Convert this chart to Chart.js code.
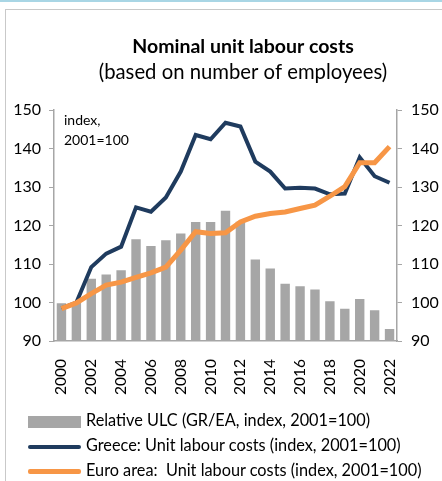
<!DOCTYPE html>
<html>
<head>
<meta charset="utf-8">
<script src="https://cdn.jsdelivr.net/npm/chart.js@4.4.1/dist/chart.umd.min.js"></script>
<style>
  html, body { margin: 0; padding: 0; background: #fff; }
  #wrap { position: relative; width: 442px; height: 481px; overflow: hidden; font-family: Lato, "Open Sans", sans-serif; }
  #topline { position: absolute; left: 0; top: 0; width: 442px; height: 2px; background: #a9d6e5; }
  #frame { position: absolute; left: 5px; top: 9px; width: 460px; height: 500px; border: 1px solid #c9c9c9; }
  #chart { position: absolute; left: 0; top: 0; }
  #unit { position: absolute; left: 64px; top: 110px; font-size: 14px; line-height: 20px; color: #000; }
  .leg { position: absolute; left: 28px; font-size: 16.3px; color: #000; white-space: nowrap; }
  .sw { display: inline-block; width: 53px; vertical-align: middle; margin-right: 5px; }
</style>
</head>
<body>
<div id="wrap">
  <div id="topline"></div>
  <div id="frame"></div>
  <canvas id="chart" width="442" height="481"></canvas>
  <div id="unit">index,<br>2001=100</div>
  <div class="leg" style="top:410px"><span class="sw" style="height:12px;background:#a6a6a6"></span>Relative ULC (GR/EA, index, 2001=100)</div>
  <div class="leg" style="top:435px"><span class="sw" style="height:4px;background:#1f3b5e;border-radius:2px"></span>Greece: Unit labour costs (index, 2001=100)</div>
  <div class="leg" style="top:460px"><span class="sw" style="height:5px;background:#f79646;border-radius:2px"></span>Euro area:&nbsp; Unit labour costs (index, 2001=100)</div>
</div>
<script>
// Datos
const years = ['2000','2001','2002','2003','2004','2005','2006','2007','2008','2009','2010','2011',
               '2012','2013','2014','2015','2016','2017','2018','2019','2020','2021','2022'];
const relativeUlc = [99.8, 100.0, 106.2, 107.3, 108.4, 116.4, 114.7, 116.2, 117.9, 120.9, 120.9, 123.8,
                     121.0, 111.2, 108.8, 104.9, 104.2, 103.4, 100.3, 98.4, 100.9, 98.0, 93.1];
const greeceUlc = [98.5, 100.0, 109.2, 112.7, 114.5, 124.7, 123.6, 127.3, 134.0, 143.5, 142.4, 146.7,
                   145.7, 136.6, 134.0, 129.6, 129.8, 129.6, 128.1, 128.3, 137.7, 132.8, 131.1];
const euroUlc = [98.4, 99.9, 102.3, 104.5, 105.3, 106.5, 107.7, 109.2, 113.6, 118.4, 117.9, 118.1,
                 120.9, 122.4, 123.1, 123.5, 124.4, 125.3, 127.6, 130.1, 136.3, 136.3, 140.5];

const axisGrey = '#a6a6a6';
const tickFont = { family: 'Lato, "Open Sans", sans-serif', size: 16 };

function yAxis(pos, width, pad) {
    return {
        position: pos,
        min: 90,
        max: 150,
        ticks: { stepSize: 10, color: '#000', font: tickFont, padding: pad },
        grid: { drawOnChartArea: false, color: axisGrey, tickLength: 5 },
        border: { color: axisGrey, width: 1.5 },
        afterFit: s => { s.width = width; }
    };
}

new Chart(document.getElementById('chart').getContext('2d'), {
    data: {
        labels: years,
        datasets: [
            { type: 'line', label: 'Euro area:  Unit labour costs (index, 2001=100)', data: euroUlc,
              borderColor: '#f79646', borderWidth: 5, pointRadius: 0, tension: 0, order: 1, yAxisID: 'y' },
            { type: 'line', label: 'Greece: Unit labour costs (index, 2001=100)', data: greeceUlc,
              borderColor: '#1f3b5e', borderWidth: 4, pointRadius: 0, tension: 0, order: 2, yAxisID: 'y' },
            { type: 'bar', label: 'Relative ULC (GR/EA, index, 2001=100)', data: relativeUlc,
              backgroundColor: '#a6a6a6', barPercentage: 0.63, categoryPercentage: 1, order: 3, yAxisID: 'y' }
        ]
    },
    options: {
        responsive: false,
        animation: false,
        layout: { padding: { left: 0, right: 0, top: 110, bottom: 0 } },
        plugins: {
            legend: { display: false },
            tooltip: { enabled: false },
            title: { display: false }
        },
        scales: {
            x: {
                offset: true,
                grid: { display: false },
                border: { color: axisGrey, width: 1.5 },
                ticks: {
                    autoSkip: false, minRotation: 90, maxRotation: 90, color: '#000',
                    font: { family: 'Lato, "Open Sans", sans-serif', size: 15.5 }, padding: 10,
                    callback: function (v, i) { return i % 2 === 0 ? this.getLabelForValue(v) : ''; }
                },
                afterFit: s => { s.height = 140; }
            },
            y: yAxis('left', 54, 8),
            y2: yAxis('right', 45, 9)
        }
    },
    plugins: [{
        id: 'titles',
        afterDraw(chart) {
            const c = chart.ctx;
            c.save();
            c.fillStyle = '#000';
            c.textAlign = 'center';
            c.textBaseline = 'alphabetic';
            c.font = 'bold 19.5px Lato, "Open Sans", sans-serif';
            c.fillText('Nominal unit labour costs', 243, 53);
            c.font = '20.3px Lato, "Open Sans", sans-serif';
            c.fillText('(based on number of employees)', 243, 79);
            c.restore();
        }
    }]
});
</script>
</body>
</html>
